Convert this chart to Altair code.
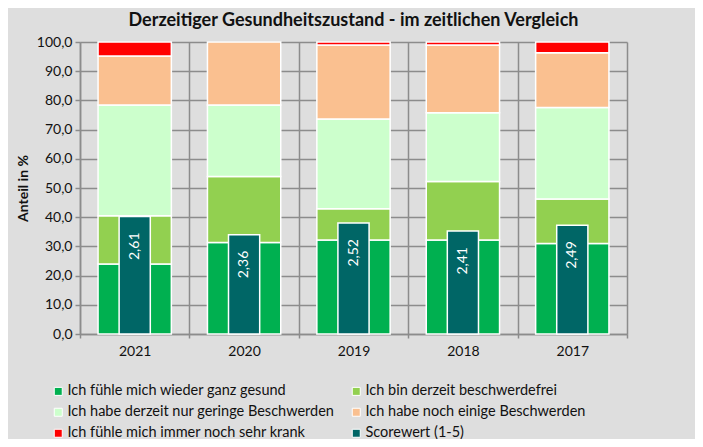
import altair as alt
import pandas as pd

years = ["2021", "2020", "2019", "2018", "2017"]
categories = [
    "Ich fühle mich wieder ganz gesund",
    "Ich bin derzeit beschwerdefrei",
    "Ich habe derzeit nur geringe Beschwerden",
    "Ich habe noch einige Beschwerden",
    "Ich fühle mich immer noch sehr krank",
]
score_label = "Scorewert (1-5)"
gesund = [24.0, 31.3, 32.2, 32.2, 31.0]
beschwerdefrei = [16.5, 22.6, 10.7, 20.0, 15.2]
gering = [37.9, 24.5, 30.7, 23.6, 31.4]
einige = [16.8, 21.6, 25.4, 23.2, 18.7]
krank = [4.8, 0.0, 1.0, 1.0, 3.7]
scores = [2.61, 2.36, 2.52, 2.41, 2.49]
colors = ["#00B050", "#92D050", "#CCFFCC", "#FAC090", "#FF0000", "#006666"]

series = [gesund, beschwerdefrei, gering, einige, krank]
rows = []
for ci, (cat, vals) in enumerate(zip(categories, series)):
    for y, v in zip(years, vals):
        if v > 0:
            rows.append({"Jahr": y, "Kategorie": cat, "Wert": v, "idx": ci})
df = pd.DataFrame(rows)

sdf = pd.DataFrame({
    "Jahr": years,
    "Score": scores,
    "Kategorie": [score_label] * len(years),
    "label": [f"{s:.2f}".replace(".", ",") for s in scores],
})

FONT = "Lato"
GRID = "#8C8C8C"
TXT = "#111111"

x_enc = alt.X(
    "Jahr:N", sort=years, title=None,
    scale=alt.Scale(paddingInner=0, paddingOuter=0),
    axis=alt.Axis(labelAngle=0, tickBand="extent", grid=True, gridColor=GRID, gridWidth=1.5,
                  domainColor=GRID, domainWidth=1.5, tickColor=GRID, tickWidth=1.5, tickSize=4,
                  labelPadding=6, labelFontSize=14, labelColor=TXT, labelFont=FONT),
)

color_enc = alt.Color(
    "Kategorie:N",
    scale=alt.Scale(domain=categories + [score_label], range=colors),
    legend=alt.Legend(
        title=None, orient="none", legendX=-29, legendY=342, columns=2, direction="horizontal",
        symbolType="square", symbolSize=64, symbolStrokeColor="white", symbolStrokeWidth=1,
        labelFontSize=14.5, labelFont=FONT, labelColor=TXT, labelLimit=400,
        rowPadding=6, columnPadding=14, symbolOffset=0, labelOffset=2,
    ),
)

bars = alt.Chart(df).mark_bar(
    width=alt.RelativeBandSize(0.67), stroke="white", strokeWidth=1.5
).encode(
    x=x_enc,
    y=alt.Y(
        "Wert:Q", stack="zero",
        scale=alt.Scale(domain=[0, 100], nice=False),
        axis=alt.Axis(values=list(range(0, 101, 10)),
                      labelExpr="replace(format(datum.value, '.1f'), '.', ',')",
                      title="Anteil in %", titleFontWeight="bold", titleFontSize=14, titleFont=FONT,
                      titleColor=TXT, titlePadding=6, grid=True, gridColor=GRID, gridWidth=1.5,
                      domainColor=GRID, domainWidth=1.5, tickColor=GRID, tickWidth=1.5, tickSize=5,
                      labelPadding=3, labelFontSize=14, labelFont=FONT, labelColor=TXT),
    ),
    color=color_enc,
    order=alt.Order("idx:Q"),
)

score_y = alt.Y(
    "Score:Q",
    scale=alt.Scale(domain=[1, 5], nice=False, zero=False),
    axis=alt.Axis(orient="right", values=[1, 1.5, 2, 2.5, 3, 3.5, 4, 4.5, 5],
                  labelExpr="replace(format(datum.value, '.2f'), '.', ',')",
                  title="Scorewert", titleFontWeight="bold", titleFontSize=14, titleFont=FONT,
                  titleColor=TXT, titlePadding=9, grid=False, domainColor=GRID, domainWidth=1.5,
                  tickColor=GRID, tickWidth=1.5, tickSize=6, labelPadding=8,
                  labelFontSize=14, labelFont=FONT, labelColor=TXT),
)

score = alt.Chart(sdf).mark_bar(
    width=alt.RelativeBandSize(0.285), stroke="white", strokeWidth=1.5
).encode(
    x=alt.X("Jahr:N", sort=years),
    y=score_y,
    y2=alt.datum(1),
    color=alt.Color("Kategorie:N"),
)

labels = alt.Chart(sdf).mark_text(
    angle=270, align="right", baseline="middle", dx=-16, color="white", fontSize=14, font=FONT
).encode(
    x=alt.X("Jahr:N", sort=years),
    y=alt.Y("Score:Q", scale=alt.Scale(domain=[1, 5], nice=False, zero=False), axis=None),
    text="label:N",
)

right = alt.layer(score, labels)

chart = alt.layer(bars, right).resolve_scale(y="independent").properties(
    width=547, height=292,
    title=alt.TitleParams("Derzeitiger Gesundheitszustand - im zeitlichen Vergleich",
                          fontSize=18, fontWeight="bold", font=FONT, anchor="middle",
                          offset=5, color=TXT),
    autosize=alt.AutoSizeParams(type="none"),
    padding={"left": 72, "top": 34, "right": 68, "bottom": 105},
    background="#DEDEDE",
).configure_view(stroke=None)

chart.save("out.html", embed_options={"renderer": "svg", "actions": False})
